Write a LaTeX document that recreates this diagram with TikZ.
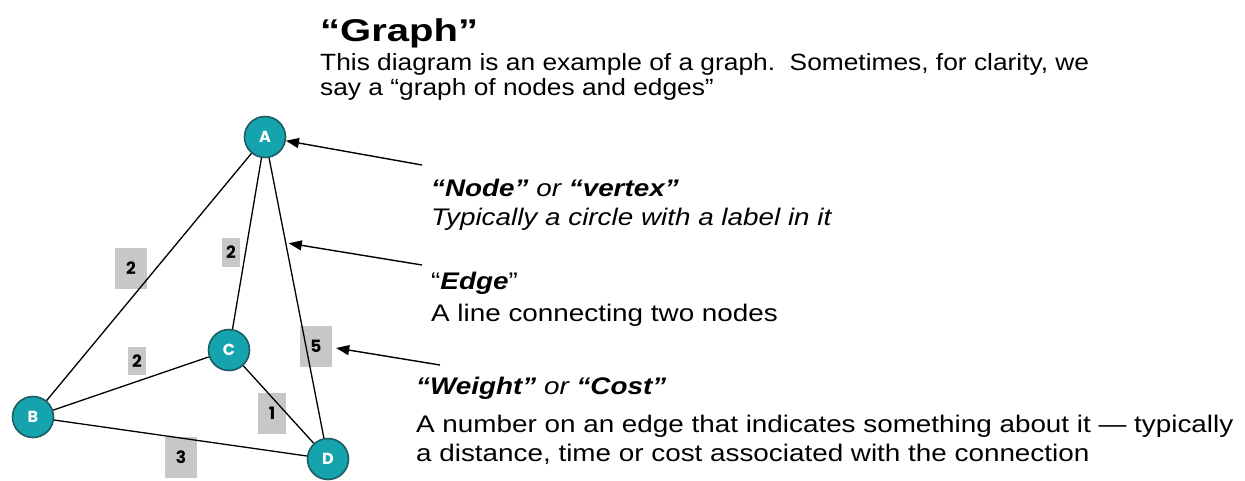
\documentclass[tikz,border=0pt]{standalone}
\usepackage{fontspec}
\setmainfont{Liberation Sans}
\newfontfamily\popf{Poppins}
\newfontfamily\titlef{Liberation Sans}[FakeStretch=1.27]
\newfontfamily\bodyf{Liberation Sans}[FakeStretch=1.12]
\newfontfamily\annf{Liberation Sans}[FakeStretch=1.16]
\usetikzlibrary{arrows.meta,calc}
\definecolor{tealfill}{HTML}{15A3AD}
\definecolor{tealedge}{HTML}{1D5C62}
\definecolor{wbox}{HTML}{C7C7C7}
\tikzset{
  vnode/.style={circle,fill=tealfill,draw=tealedge,line width=1.6pt,minimum size=41pt,inner sep=0pt,
    text=white,font=\popf\bfseries\fontsize{16}{16}\selectfont},
  wrect/.style={fill=wbox,draw=none,inner sep=0pt,font=\popf\bfseries\fontsize{17}{17}\selectfont},
  gedge/.style={line width=1.3pt,black},
  pointer/.style={line width=1.4pt,black,-{Triangle[length=13pt,width=10pt]}},
  txt/.style={anchor=base west,inner sep=0pt},
  body/.style={txt,font=\bodyf\fontsize{23.5}{23.5}\selectfont},
  ann/.style={txt,font=\annf\fontsize{24}{24}\selectfont},
}
\begin{document}
\begin{tikzpicture}[x=1pt,y=-1pt]
\useasboundingbox (0,0) rectangle (1245,480);
% weight boxes
\node[wrect,minimum width=32pt,minimum height=41pt] (wAB) at (131,268) {2};
\node[wrect,minimum width=18pt,minimum height=29pt] (wAC) at (231,252) {2};
\node[wrect,minimum width=18pt,minimum height=28pt] (wBC) at (137,361) {2};
\node[wrect,minimum width=28pt,minimum height=41pt] (wCD) at (272,413) {1};
\node[wrect,minimum width=32pt,minimum height=41pt] (wAD) at (316,346) {5};
\node[wrect,minimum width=32pt,minimum height=41pt] (wBD) at (181,457) {3};
% vertices
\node[vnode] (A) at (265,137) {A};
\node[vnode] (B) at (33,417) {B};
\node[vnode] (C) at (229,350) {C};
\node[vnode] (D) at (328,459) {D};
% edges
\draw[gedge] (A) -- (B);
\draw[gedge] (A) -- (C);
\draw[gedge] (A) -- (D);
\draw[gedge] (B) -- (C);
\draw[gedge] (C) -- (D);
\draw[gedge] (B) -- (D);
% texts
\node[txt,font=\titlef\bfseries\fontsize{31.5}{31.5}\selectfont] (title) at (320,41) {“Graph”};
\node[body] (l1) at (320,70) {This diagram is an example of a graph.\ \ Sometimes, for clarity, we};
\node[body] (l2) at (320,95) {say a “graph of nodes and edges”};
\node[ann] (n1) at (431,196) {\itshape\bfseries “Node”\mdseries\ or \bfseries“vertex”};
\node[ann] (n2) at (431,225) {\itshape Typically a circle with a label in it};
\node[ann] (e1) at (431,289) {“\textbf{\itshape Edge}”};
\node[ann] (e2) at (431,321) {A line connecting two nodes};
\node[ann] (w1) at (416,394) {\itshape\bfseries “Weight”\mdseries\ or \bfseries“Cost”};
\node[ann] (w2) at (416,432) {A number on an edge that indicates something about it — typically};
\node[ann] (w3) at (416,461) {a distance, time or cost associated with the connection};
% pointers
\coordinate (p1) at (422,165);
\coordinate (p2) at (422,265);
\coordinate (p3) at (440,365);
\coordinate (t2) at ($(A)!0.33!(D)+(3,0)$);
\coordinate (t3) at ($(wAD.east)+(4,2)$);
\draw[pointer] (p1) -- (A);
\draw[pointer] (p2) -- (t2);
\draw[pointer] (p3) -- (t3);
\end{tikzpicture}
\end{document}
